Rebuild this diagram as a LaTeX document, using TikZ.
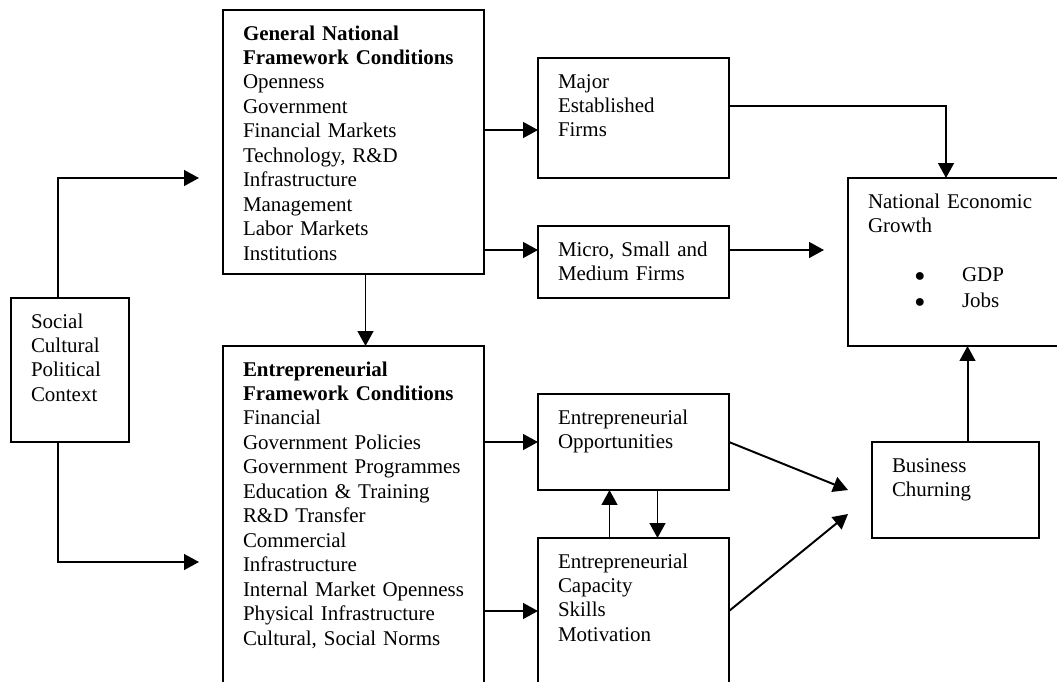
\documentclass[tikz,border=0pt]{standalone}
\usepackage{fontspec}
\setmainfont{Liberation Serif}
\usetikzlibrary{arrows.meta,positioning}
\newcommand{\bulletline}[1]{\hspace*{13mm}\makebox[0pt]{$\bullet$}\hspace{10.5mm}#1}

\begin{document}
\begin{tikzpicture}[
  x=1mm, y=1mm,
  font=\fontsize{14.9}{17.4}\selectfont,
  blk/.style 2 args={draw, line width=1.4pt, anchor=north west, align=left, outer sep=0pt,
    inner xsep=5mm, inner ysep=0pt, text width=#1, text height=7.5mm, text depth=#2},
  arr/.style={-{Triangle[length=3.7mm, width=3.9mm]}, line width=1.4pt}
]
\useasboundingbox (0,0) rectangle (264.25,-170.25);
\clip (0,0) rectangle (264.25,-170.25);

% boxes
\node[blk={19.5mm}{28.5mm}] (social) at (2.75,-74.5)
  {Social\\Cultural\\Political\\Context};
\node[blk={55.25mm}{58.5mm}] (gnfc) at (55.75,-2.5)
  {\textbf{General National}\\\textbf{Framework Conditions}\\Openness\\Government\\
   Financial Markets\\Technology, R\&D\\Infrastructure\\Management\\Labor Markets\\Institutions};
\node[blk={55.25mm}{80mm}, below right=18mm and 0mm of gnfc.south west] (efc)
  {\textbf{Entrepreneurial}\\\textbf{Framework Conditions}\\Financial\\Government Policies\\
   Government Programmes\\Education \& Training\\R\&D Transfer\\Commercial\\Infrastructure\\
   \mbox{Internal Market Openness}\\Physical Infrastructure\\Cultural, Social Norms};
\node[blk={37.75mm}{22.5mm}, below right=12mm and 13.5mm of gnfc.north east] (major)
  {Major\\Established\\Firms};
\node[blk={37.75mm}{10.5mm}, below right=12mm and 0mm of major.south west] (micro)
  {Micro, Small and\\Medium Firms};
\node[blk={37.75mm}{16.5mm}, below right=12mm and 13.5mm of efc.north east] (opp)
  {Entrepreneurial\\Opportunities};
\node[blk={37.75mm}{29mm}, below right=12mm and 0mm of opp.south west] (cap)
  {Entrepreneurial\\Capacity\\Skills\\Motivation};
\node[blk={43mm}{34.5mm}, below right=0mm and 29.75mm of major.south east] (neg)
  {National Economic\\Growth\\[17.4pt]\bulletline{GDP}\\[1.5pt]\bulletline{Jobs}};
\node[blk={31.75mm}{16.5mm}, below right=24mm and 6mm of neg.south west] (churn)
  {Business\\Churning};

% open arrow ends
\coordinate (gin) at (49.75,-44.5);
\coordinate (ein) at (49.75,-140.5);
\coordinate (mout) at (206,-62.5);

% connectors
\draw[arr] ([xshift=-3mm]social.north) |- (gin);
\draw[arr] ([xshift=-3mm]social.south) |- (ein);
\draw[arr] ([yshift=-3mm]major.west -| gnfc.east) -- ([yshift=-3mm]major.west);
\draw[arr] ([yshift=3mm]micro.west -| gnfc.east) -- ([yshift=3mm]micro.west);
\draw[arr] ([xshift=3mm]gnfc.south) -- ([xshift=3mm]gnfc.south |- efc.north);
\draw[arr] ([yshift=3mm]major.east) -| ([xshift=-2mm]neg.north);
\draw[arr] ([yshift=3mm]micro.east) -- (mout);
\draw[arr] (opp.west -| efc.east) -- (opp.west);
\draw[arr] (cap.west -| efc.east) -- (cap.west);
\draw[arr] ([xshift=-6mm]cap.north) -- ([xshift=-6mm]opp.south);
\draw[arr] ([xshift=6mm]opp.south) -- ([xshift=6mm]cap.north);
\draw[arr] (opp.east) -- ([xshift=-6mm]churn.west);
\draw[arr] (cap.east) -- ([shift={(-6mm,-6mm)}]churn.west);
\draw[arr] ([xshift=3mm]churn.north) -- ([xshift=3mm]churn.north |- neg.south);
\end{tikzpicture}
\end{document}
